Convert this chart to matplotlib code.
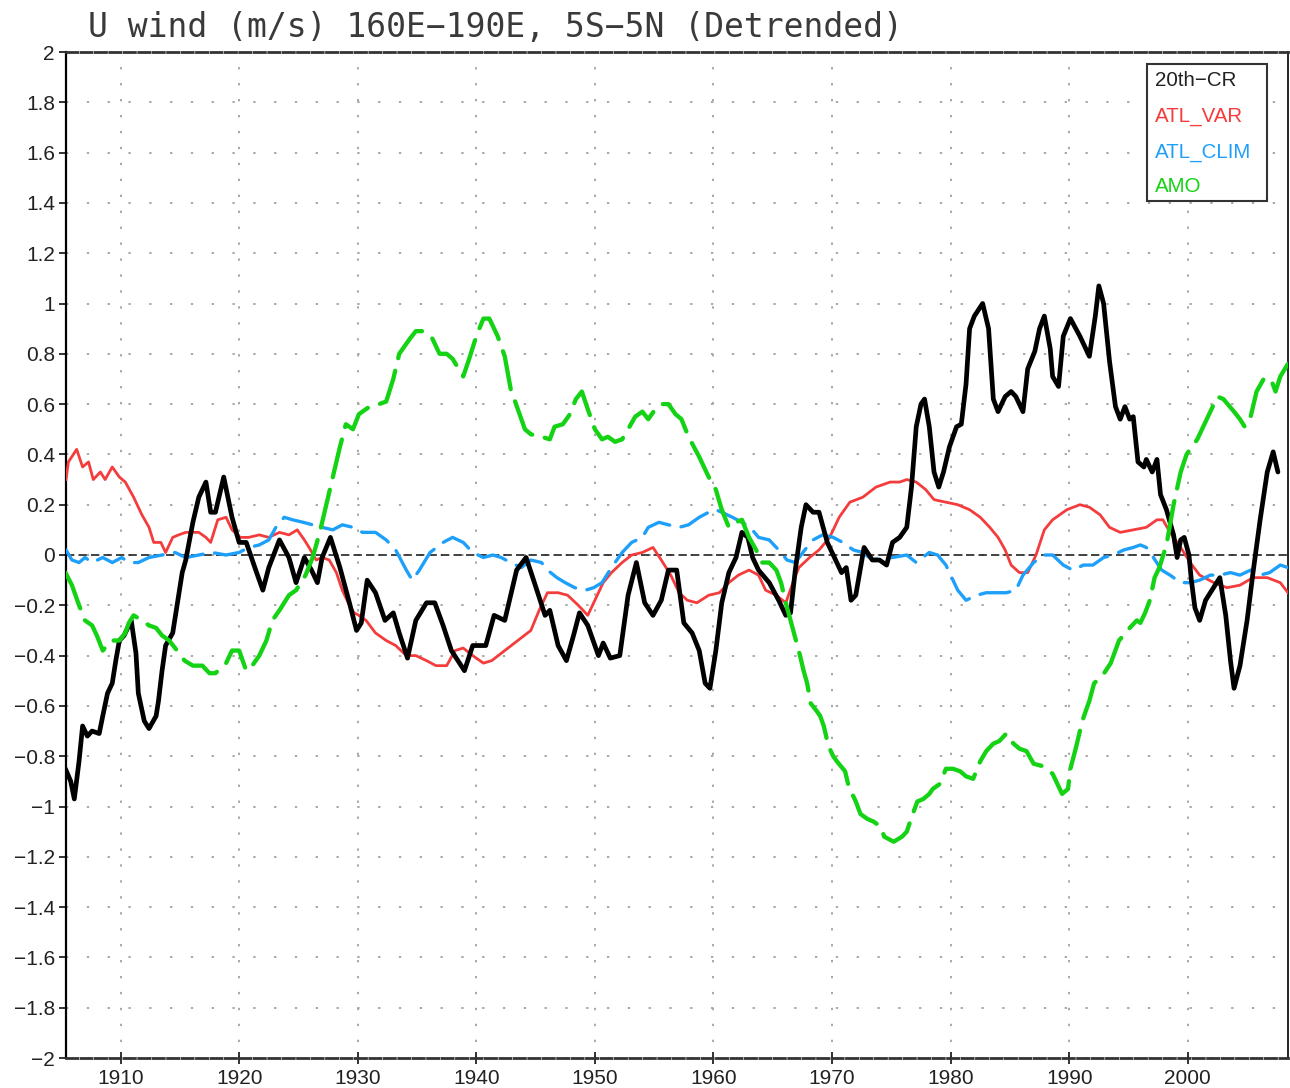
import matplotlib
matplotlib.use("Agg")
import matplotlib.pyplot as plt
from matplotlib.patches import Rectangle
from matplotlib.ticker import FuncFormatter, MultipleLocator

# ---------------- data ----------------
cr_years = [1905.35, 1905.8, 1906.1, 1906.5, 1906.8, 1907.2, 1907.6, 1908.2, 1908.5, 1908.9,
            1909.3, 1909.6, 1909.9, 1910.3, 1910.7, 1910.9, 1911.3, 1911.5, 1912.0, 1912.4,
            1913.0, 1913.2, 1913.5, 1913.8, 1914.4, 1914.8, 1915.2, 1915.5, 1916.1, 1916.6,
            1917.2, 1917.6, 1918.0, 1918.7, 1919.4, 1920.0, 1920.6, 1921.4, 1922.0, 1922.5,
            1923.4, 1924.2, 1924.8, 1925.5, 1926.1, 1926.6, 1927.0, 1927.7, 1928.5, 1929.3,
            1929.9, 1930.3, 1930.8, 1931.5, 1932.3, 1933.0, 1933.5, 1934.2, 1934.9, 1935.8,
            1936.5, 1937.2, 1937.9, 1939.0, 1939.7, 1940.8, 1941.5, 1942.4, 1942.9, 1943.4,
            1944.2, 1944.9, 1945.8, 1946.2, 1946.9, 1947.6, 1948.2, 1948.7, 1949.4, 1950.3,
            1950.7, 1951.3, 1952.1, 1952.8, 1953.5, 1954.2, 1954.9, 1955.6, 1956.2, 1956.9,
            1957.5, 1958.2, 1958.8, 1959.3, 1959.7, 1960.2, 1960.7, 1961.3, 1961.9, 1962.4,
            1962.9, 1963.3, 1963.8, 1964.7, 1965.5, 1966.1, 1966.5, 1966.9, 1967.4, 1967.8,
            1968.4, 1968.9, 1969.6, 1970.3, 1970.8, 1971.2, 1971.6, 1972.0, 1972.7, 1973.4,
            1974.0, 1974.6, 1975.1, 1975.7, 1976.3, 1976.7, 1977.1, 1977.5, 1977.8, 1978.2,
            1978.6, 1979.0, 1979.4, 1979.9, 1980.5, 1980.9, 1981.3, 1981.6, 1982.0, 1982.7,
            1983.2, 1983.6, 1984.0, 1984.6, 1985.1, 1985.5, 1986.1, 1986.5, 1987.1, 1987.5,
            1987.9, 1988.4, 1988.6, 1989.1, 1989.5, 1990.1, 1990.9, 1991.7, 1992.2, 1992.5,
            1992.9, 1993.4, 1993.9, 1994.3, 1994.7, 1995.1, 1995.4, 1995.8, 1996.3, 1996.5,
            1997.0, 1997.4, 1997.7, 1998.2, 1998.8, 1999.1, 1999.4, 1999.7, 2000.1, 2000.3,
            2000.6, 2001.0, 2001.5, 2001.9, 2002.3, 2002.7, 2003.2, 2003.6, 2003.9, 2004.4,
            2005.0, 2005.5, 2006.1, 2006.7, 2007.2, 2007.6]
cr_vals = [-0.85, -0.90, -0.97, -0.82, -0.68, -0.72, -0.70, -0.71, -0.64, -0.55,
           -0.51, -0.42, -0.34, -0.32, -0.28, -0.26, -0.39, -0.55, -0.66, -0.69,
           -0.64, -0.58, -0.46, -0.36, -0.31, -0.19, -0.07, -0.02, 0.13, 0.23,
           0.29, 0.17, 0.17, 0.31, 0.15, 0.05, 0.05, -0.06, -0.14, -0.05,
           0.06, -0.01, -0.11, -0.01, -0.06, -0.11, -0.01, 0.07, -0.05, -0.19,
           -0.30, -0.27, -0.10, -0.15, -0.26, -0.23, -0.31, -0.41, -0.26, -0.19,
           -0.19, -0.28, -0.38, -0.46, -0.36, -0.36, -0.24, -0.26, -0.16, -0.06,
           -0.01, -0.11, -0.24, -0.22, -0.36, -0.42, -0.32, -0.23, -0.28, -0.40,
           -0.35, -0.41, -0.40, -0.16, -0.03, -0.19, -0.24, -0.18, -0.06, -0.06,
           -0.27, -0.31, -0.38, -0.51, -0.53, -0.38, -0.19, -0.07, -0.01, 0.09,
           0.07, -0.01, -0.06, -0.11, -0.18, -0.24, -0.23, -0.06, 0.11, 0.20,
           0.17, 0.17, 0.05, -0.02, -0.07, -0.05, -0.18, -0.16, 0.03, -0.02,
           -0.02, -0.04, 0.05, 0.07, 0.11, 0.27, 0.51, 0.60, 0.62, 0.51,
           0.33, 0.27, 0.33, 0.43, 0.51, 0.52, 0.68, 0.90, 0.95, 1.00,
           0.90, 0.62, 0.57, 0.63, 0.65, 0.63, 0.57, 0.74, 0.81, 0.90,
           0.95, 0.82, 0.71, 0.67, 0.87, 0.94, 0.87, 0.79, 0.95, 1.07,
           1.00, 0.77, 0.59, 0.54, 0.59, 0.54, 0.55, 0.37, 0.35, 0.38,
           0.33, 0.38, 0.24, 0.18, 0.08, -0.01, 0.06, 0.07, 0.00, -0.10,
           -0.21, -0.26, -0.18, -0.15, -0.12, -0.09, -0.24, -0.42, -0.53, -0.44,
           -0.26, -0.07, 0.14, 0.33, 0.41, 0.33]

var_years = [1905.4, 1905.6, 1906.3, 1906.8, 1907.3, 1907.7, 1908.3, 1908.7, 1909.3, 1909.9,
             1910.4, 1911.1, 1911.8, 1912.4, 1912.8, 1913.4, 1913.8, 1914.4, 1914.9, 1915.5,
             1916.1, 1916.6, 1917.2, 1917.6, 1918.2, 1918.9, 1919.4, 1920.1, 1920.8, 1921.7,
             1922.5, 1923.4, 1924.2, 1924.9, 1925.5, 1925.9, 1926.5, 1927.0, 1927.6, 1928.2,
             1928.7, 1929.3, 1929.7, 1930.1, 1930.7, 1931.5, 1932.4, 1933.2, 1934.1, 1934.9,
             1935.8, 1936.6, 1937.5, 1938.2, 1938.9, 1939.7, 1940.6, 1941.3, 1942.4, 1943.5,
             1944.6, 1945.3, 1946.0, 1946.9, 1947.7, 1948.6, 1949.4, 1950.0, 1950.7, 1951.4,
             1952.3, 1953.1, 1954.0, 1954.9, 1955.6, 1956.4, 1957.1, 1957.8, 1958.6, 1959.6,
             1960.5, 1961.3, 1962.1, 1963.0, 1963.8, 1964.4, 1965.3, 1966.1, 1966.7, 1967.2,
             1968.1, 1968.9, 1969.8, 1970.6, 1971.5, 1972.6, 1973.7, 1974.9, 1975.7, 1976.3,
             1977.1, 1977.9, 1978.6, 1979.6, 1980.6, 1981.6, 1982.5, 1983.3, 1984.0, 1984.6,
             1985.1, 1985.8, 1986.5, 1987.2, 1987.9, 1988.6, 1989.8, 1990.9, 1991.7, 1992.6,
             1993.4, 1994.3, 1995.4, 1996.5, 1997.4, 1997.9, 1998.5, 1999.4, 2000.2, 2001.0,
             2002.2, 2003.3, 2004.4, 2005.5, 2006.7, 2007.8, 2008.45]
var_vals = [0.30, 0.37, 0.42, 0.35, 0.37, 0.30, 0.33, 0.30, 0.35, 0.31,
            0.29, 0.23, 0.16, 0.11, 0.05, 0.05, 0.01, 0.07, 0.08, 0.09,
            0.09, 0.09, 0.07, 0.05, 0.14, 0.15, 0.10, 0.07, 0.07, 0.08,
            0.07, 0.09, 0.08, 0.10, 0.06, 0.03, -0.02, -0.01, -0.02, -0.07,
            -0.14, -0.20, -0.23, -0.24, -0.26, -0.31, -0.34, -0.36, -0.40, -0.40,
            -0.42, -0.44, -0.44, -0.38, -0.37, -0.40, -0.43, -0.42, -0.38, -0.34,
            -0.30, -0.22, -0.15, -0.15, -0.16, -0.20, -0.24, -0.18, -0.11, -0.07,
            -0.03, 0.00, 0.01, 0.03, -0.02, -0.08, -0.15, -0.18, -0.19, -0.16,
            -0.15, -0.11, -0.08, -0.06, -0.08, -0.14, -0.16, -0.19, -0.11, -0.05,
            -0.01, 0.02, 0.07, 0.15, 0.21, 0.23, 0.27, 0.29, 0.29, 0.30,
            0.29, 0.26, 0.22, 0.21, 0.20, 0.18, 0.15, 0.11, 0.07, 0.02,
            -0.04, -0.07, -0.07, 0.00, 0.10, 0.14, 0.18, 0.20, 0.19, 0.16,
            0.11, 0.09, 0.10, 0.11, 0.14, 0.14, 0.09, 0.03, -0.03, -0.08,
            -0.11, -0.13, -0.12, -0.09, -0.09, -0.11, -0.15]

clim_years = [1905.4, 1905.9, 1906.5, 1907.0, 1907.6, 1908.5, 1909.3, 1910.1, 1910.7, 1911.5,
              1912.4, 1913.5, 1914.6, 1915.5, 1916.6, 1917.7, 1918.9, 1920.0, 1920.8, 1921.7,
              1922.5, 1923.1, 1923.8, 1924.5, 1925.4, 1926.2, 1927.0, 1927.9, 1928.7, 1929.6,
              1930.4, 1931.5, 1932.4, 1933.2, 1934.1, 1934.6, 1935.2, 1936.1, 1937.2, 1938.0,
              1938.9, 1939.7, 1940.6, 1941.4, 1942.1, 1942.9, 1943.8, 1944.6, 1945.5, 1946.0,
              1946.8, 1947.5, 1948.3, 1949.2, 1949.9, 1950.6, 1951.4, 1952.3, 1953.1, 1954.0,
              1954.5, 1955.4, 1956.2, 1957.1, 1957.9, 1958.8, 1959.6, 1960.2, 1960.7, 1961.6,
              1962.4, 1963.1, 1963.8, 1964.7, 1965.5, 1966.2, 1966.9, 1967.7, 1968.4, 1969.2,
              1970.1, 1970.9, 1971.8, 1972.6, 1973.4, 1974.3, 1975.1, 1976.3, 1977.1, 1978.2,
              1978.9, 1979.6, 1980.1, 1980.6, 1981.3, 1982.2, 1983.0, 1983.9, 1984.7, 1985.5,
              1986.1, 1987.0, 1987.8, 1988.6, 1989.5, 1990.3, 1991.2, 1992.0, 1992.9, 1993.7,
              1994.6, 1995.4, 1996.0, 1996.5, 1997.1, 1997.8, 1998.5, 1999.4, 2000.2, 2001.0,
              2001.9, 2002.7, 2003.6, 2004.4, 2005.3, 2006.1, 2006.9, 2007.8, 2008.45]
clim_vals = [0.02, -0.02, -0.03, -0.01, -0.03, -0.01, -0.03, -0.01, -0.03, -0.03,
             -0.01, 0.00, 0.01, -0.01, 0.00, 0.01, 0.00, 0.01, 0.03, 0.04,
             0.06, 0.11, 0.15, 0.14, 0.13, 0.12, 0.11, 0.10, 0.12, 0.11,
             0.09, 0.09, 0.06, 0.02, -0.06, -0.10, -0.06, 0.01, 0.05, 0.07,
             0.05, 0.01, -0.01, 0.00, -0.01, -0.03, -0.05, -0.02, -0.03, -0.06,
             -0.09, -0.11, -0.13, -0.14, -0.13, -0.11, -0.05, 0.01, 0.05, 0.07,
             0.11, 0.13, 0.12, 0.11, 0.12, 0.15, 0.17, 0.18, 0.17, 0.15,
             0.13, 0.11, 0.07, 0.06, 0.02, -0.02, -0.03, 0.02, 0.06, 0.08,
             0.07, 0.05, 0.02, 0.01, -0.02, -0.01, -0.01, 0.00, -0.03, 0.01,
             0.00, -0.04, -0.09, -0.14, -0.18, -0.16, -0.15, -0.15, -0.15, -0.14,
             -0.08, -0.03, 0.00, 0.00, -0.04, -0.06, -0.04, -0.04, -0.01, 0.00,
             0.02, 0.03, 0.04, 0.03, -0.01, -0.06, -0.08, -0.11, -0.11, -0.10,
             -0.08, -0.08, -0.07, -0.08, -0.06, -0.08, -0.07, -0.04, -0.05]

amo_years = [1905.35, 1905.9, 1906.5, 1907.0, 1907.6, 1908.0, 1908.5, 1909.2, 1909.9, 1910.4,
             1910.7, 1911.1, 1911.8, 1912.4, 1913.0, 1913.5, 1914.1, 1914.6, 1915.4, 1916.1,
             1916.9, 1917.5, 1918.0, 1918.9, 1919.4, 1920.0, 1920.6, 1921.1, 1921.7, 1922.3,
             1922.8, 1923.4, 1924.2, 1924.8, 1925.6, 1926.2, 1926.8, 1927.3, 1927.9, 1928.5,
             1929.0, 1929.6, 1930.1, 1931.0, 1931.8, 1932.4, 1933.0, 1933.5, 1934.4, 1934.9,
             1935.5, 1936.3, 1936.9, 1937.5, 1938.0, 1938.9, 1939.4, 1940.0, 1940.6, 1941.1,
             1941.8, 1942.4, 1942.9, 1943.5, 1944.1, 1944.6, 1945.5, 1946.2, 1946.6, 1947.3,
             1947.9, 1948.4, 1948.9, 1949.4, 1950.0, 1950.6, 1951.1, 1951.7, 1952.3, 1952.8,
             1953.4, 1954.0, 1954.5, 1955.1, 1955.6, 1956.2, 1956.8, 1957.3, 1957.9, 1958.8,
             1959.6, 1960.2, 1960.7, 1961.3, 1961.9, 1962.4, 1963.0, 1963.6, 1964.1, 1964.7,
             1965.3, 1965.7, 1966.1, 1966.5, 1966.9, 1967.3, 1967.6, 1967.9, 1968.2, 1968.7,
             1969.0, 1969.3, 1969.7, 1970.1, 1970.4, 1971.1, 1971.4, 1972.0, 1972.4, 1973.0,
             1973.5, 1974.1, 1974.4, 1975.2, 1975.9, 1976.3, 1976.8, 1977.2, 1977.7, 1978.2,
             1978.5, 1979.1, 1979.6, 1980.2, 1980.8, 1981.3, 1981.9, 1982.5, 1983.0, 1983.6,
             1984.1, 1984.7, 1985.3, 1985.8, 1986.4, 1987.0, 1987.8, 1988.6, 1989.0, 1989.4,
             1989.9, 1990.1, 1990.6, 1991.1, 1991.7, 1992.1, 1992.8, 1993.5, 1994.2, 1995.1,
             1995.7, 1996.0, 1996.4, 1996.8, 1997.2, 1997.6, 1998.2, 1998.8, 1999.4, 1999.9,
             2000.8, 2001.9, 2002.5, 2003.0, 2003.9, 2004.4, 2004.8, 2005.3, 2005.8, 2006.4,
             2007.0, 2007.4, 2007.8, 2008.45]
amo_vals = [-0.07, -0.12, -0.20, -0.26, -0.28, -0.32, -0.38, -0.34, -0.34, -0.31,
            -0.27, -0.24, -0.26, -0.28, -0.29, -0.32, -0.34, -0.37, -0.42, -0.44,
            -0.44, -0.47, -0.47, -0.43, -0.38, -0.38, -0.46, -0.44, -0.40, -0.34,
            -0.26, -0.22, -0.16, -0.14, -0.08, -0.01, 0.09, 0.19, 0.31, 0.43,
            0.52, 0.50, 0.56, 0.59, 0.60, 0.61, 0.70, 0.80, 0.86, 0.89,
            0.89, 0.86, 0.80, 0.80, 0.78, 0.71, 0.78, 0.87, 0.94, 0.94,
            0.87, 0.79, 0.66, 0.58, 0.50, 0.48, 0.47, 0.46, 0.51, 0.52,
            0.56, 0.62, 0.65, 0.58, 0.50, 0.46, 0.47, 0.45, 0.46, 0.50,
            0.55, 0.57, 0.54, 0.58, 0.60, 0.60, 0.56, 0.54, 0.47, 0.39,
            0.31, 0.26, 0.18, 0.11, 0.13, 0.14, 0.07, 0.02, -0.03, -0.03,
            -0.06, -0.11, -0.19, -0.26, -0.33, -0.40, -0.46, -0.51, -0.59, -0.62,
            -0.64, -0.68, -0.76, -0.80, -0.82, -0.86, -0.92, -0.98, -1.03, -1.05,
            -1.06, -1.08, -1.12, -1.14, -1.12, -1.10, -1.03, -0.98, -0.97, -0.95,
            -0.93, -0.91, -0.85, -0.85, -0.86, -0.88, -0.89, -0.82, -0.78, -0.75,
            -0.74, -0.71, -0.75, -0.77, -0.78, -0.83, -0.84, -0.87, -0.91, -0.95,
            -0.93, -0.85, -0.76, -0.66, -0.58, -0.51, -0.48, -0.43, -0.34, -0.29,
            -0.26, -0.27, -0.23, -0.18, -0.09, -0.05, 0.04, 0.20, 0.33, 0.40,
            0.46, 0.57, 0.63, 0.62, 0.57, 0.54, 0.51, 0.55, 0.65, 0.70,
            0.70, 0.65, 0.71, 0.76]

series_names = ["20th\u2212CR", "ATL_VAR", "ATL_CLIM", "AMO"]
series_colors = ["#000000", "#f43c3c", "#1ea0fa", "#14d214"]
title_text = "U wind (m/s) 160E\u2212190E, 5S\u22125N (Detrended)"
x_ticks = [1910, 1920, 1930, 1940, 1950, 1960, 1970, 1980, 1990, 2000]

# ---------------- figure ----------------
W, H = 1290, 1088
fig = plt.figure(figsize=(W / 100, H / 100), dpi=100)
L, R, T, B = 66, 1288, 52, 1058
ax = fig.add_axes([L / W, 1 - B / H, (R - L) / W, (B - T) / H])

ax.set_xlim(1905.4, 2008.45)
ax.set_ylim(-2, 2)

# grid
ax.xaxis.set_major_locator(plt.FixedLocator(x_ticks))
ax.yaxis.set_major_locator(MultipleLocator(0.2))
ax.xaxis.grid(True, color="#a8a8a8", linestyle=(0, (1.2, 7)), linewidth=1.4)
ax.yaxis.grid(True, color="#a8a8a8", linestyle=(0, (1.2, 9.5)), linewidth=1.4)
ax.set_axisbelow(True)

# zero line
ax.axhline(0, color="#222222", linewidth=1.2, linestyle=(0, (5, 2.5)), zorder=2)

# series
ax.plot(cr_years, cr_vals, color=series_colors[0], linewidth=3.4,
        solid_joinstyle="round", solid_capstyle="round", zorder=5)
ax.plot(var_years, var_vals, color=series_colors[1], linewidth=2.0,
        solid_joinstyle="round", zorder=4)
ax.plot(clim_years, clim_vals, color=series_colors[2], linewidth=2.4,
        linestyle=(0, (9, 3.5)), dash_capstyle="round", zorder=4)
ax.plot(amo_years, amo_vals, color=series_colors[3], linewidth=3.1,
        linestyle=(0, (9, 3)), dash_capstyle="round", zorder=6)

# spines
for s in ["left", "right"]:
    ax.spines[s].set_color("black")
ax.spines["left"].set_linewidth(1.6)
ax.spines["right"].set_linewidth(1.2)
for s in ["top", "bottom"]:
    ax.spines[s].set_color("#333333")
    ax.spines[s].set_linewidth(2.0)
    ax.spines[s].set_linestyle((0, (4, 1.2)))

# ticks
ax.yaxis.set_major_formatter(FuncFormatter(lambda v, p: ("%g" % round(v, 1)).replace("-", "\u2212")))
ax.xaxis.set_major_formatter(FuncFormatter(lambda v, p: "%d" % v))
ax.tick_params(axis="y", direction="out", length=5, width=1.2, pad=3, colors="#111111")
ax.tick_params(axis="x", direction="inout", length=8, width=1.2, pad=4, colors="#111111")
for lab in ax.get_yticklabels() + ax.get_xticklabels():
    lab.set_fontfamily(["Liberation Sans", "DejaVu Sans"])
    lab.set_fontsize(15)
    lab.set_color("#222222")

# title
fig.text(88 / W, 1 - 28 / H, title_text, ha="left", va="center",
         fontsize=23.8, family=["DejaVu Sans Mono"], color="#3a3a3a")

# legend box
bx0, bx1 = (1147 - L) / (R - L), (1267 - L) / (R - L)
by0, by1 = 1 - (201 - T) / (B - T), 1 - (64 - T) / (B - T)
ax.add_patch(Rectangle((bx0, by0), bx1 - bx0, by1 - by0, transform=ax.transAxes,
                       facecolor="white", edgecolor="#333333", linewidth=1.5, zorder=10))
leg_y = [80, 116, 152, 187]
for name, col, yy in zip(series_names, series_colors, leg_y):
    ax.text((1155 - L) / (R - L), 1 - (yy - T) / (B - T), name, transform=ax.transAxes,
            ha="left", va="center", fontsize=14.8, color=col if col != "#000000" else "#222222",
            family=["Liberation Sans", "DejaVu Sans"], zorder=11)

fig.savefig("out.png", dpi=100, facecolor="white")
